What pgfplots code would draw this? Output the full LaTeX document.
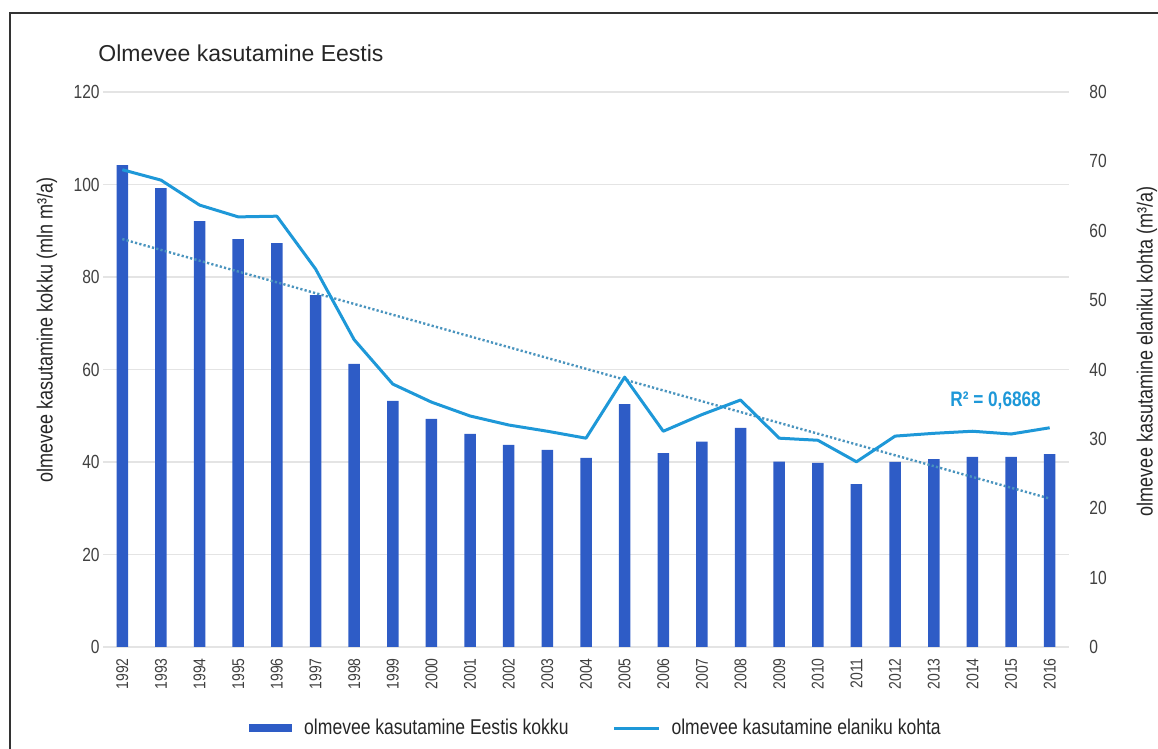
\documentclass[border=0pt]{standalone}
\usepackage{fontspec}
\setmainfont{Liberation Sans}[FakeStretch=0.82]
\newfontfamily\titlefont{Liberation Sans}
\usepackage{pgfplots}
\pgfplotsset{compat=1.18}
\definecolor{barblue}{HTML}{2E5CC6}
\definecolor{lineblue}{HTML}{1E98D8}
\definecolor{trendc}{HTML}{4A94BE}
\definecolor{gridc}{HTML}{E4E4E4}
\definecolor{txt}{HTML}{404040}
\begin{document}
\begin{tikzpicture}
\path[use as bounding box] (0pt,0pt) rectangle (579pt,374.5pt);
\draw[line width=1.2pt, color=black!80] (5pt,-10pt) -- (5pt,368pt) -- (600pt,368pt);
\node[anchor=base west, font=\titlefont\fontsize{11.5}{13}\selectfont, text=black!85, inner sep=0pt] at (49pt,343.5pt) {Olmevee kasutamine Eestis};
\begin{axis}[
  at={(51.5pt,51pt)}, anchor=south west, scale only axis,
  width=483pt, height=277.5pt,
  xmin=-0.5, xmax=24.5, ymin=0, ymax=120, enlargelimits=false,
  axis line style={draw=none}, major tick length=0pt,
  ytick={0,20,...,120}, ymajorgrids, grid style={gridc, line width=0.6pt},
  xtick={0,...,24},
  xticklabels={1992,1993,1994,1995,1996,1997,1998,1999,2000,2001,2002,2003,2004,2005,2006,2007,2008,2009,2010,2011,2012,2013,2014,2015,2016},
  xticklabel style={rotate=90, anchor=east, inner xsep=5.5pt, inner ysep=0pt, font=\fontsize{8.5}{9}\selectfont, text=txt},
  yticklabel style={anchor=east, inner sep=0pt, xshift=-1.5pt, font=\fontsize{9.5}{10}\selectfont, text=txt},
  /pgf/number format/assume math mode=true,
  ylabel={olmevee kasutamine kokku (mln m³/a)},
  every axis y label/.style={at={(rel axis cs:-0.058,0.571)}, rotate=90, anchor=center, font=\fontsize{11}{12}\selectfont, text=black!85},
]
\addplot[ybar, bar width=5.75pt, fill=barblue, draw=none] coordinates {
(0,104.2) (1,99.2) (2,92.1) (3,88.2) (4,87.3) (5,76.1) (6,61.2) (7,53.2) (8,49.3) (9,46.1)
(10,43.7) (11,42.6) (12,40.9) (13,52.5) (14,41.9) (15,44.4) (16,47.4) (17,40.1) (18,39.8)
(19,35.2) (20,40.0) (21,40.6) (22,41.1) (23,41.1) (24,41.7)};
\end{axis}
\begin{axis}[
  at={(51.5pt,51pt)}, anchor=south west, scale only axis,
  width=483pt, height=277.5pt,
  xmin=-0.5, xmax=24.5, ymin=0, ymax=80, enlargelimits=false,
  axis line style={draw=none}, major tick length=0pt,
  xtick=\empty, ytick={0,10,...,80}, yticklabel pos=right,
  yticklabel style={anchor=west, inner sep=0pt, xshift=10pt, font=\fontsize{9.5}{10}\selectfont, text=txt},
  /pgf/number format/assume math mode=true,
  ylabel={olmevee kasutamine elaniku kohta (m³/a)},
  every axis y label/.style={at={(rel axis cs:1.0807,0.533)}, rotate=90, anchor=center, font=\fontsize{11}{12}\selectfont, text=black!85},
  legend style={at={(rel axis cs:0.5115,-0.146)}, anchor=center, draw=none, fill=none,
    font=\fontsize{10.7}{12}\selectfont, text=black!85, inner sep=0pt,
    /tikz/every even column/.append style={column sep=20pt}},
  legend columns=2,
]
\addlegendimage{legend image code/.code={\fill[barblue] (0pt,-1.75pt) rectangle (21pt,1.75pt);}}
\addlegendentry{\hspace{4pt}olmevee kasutamine Eestis kokku}
\addplot[trendc, line width=1.2pt, dash pattern=on 1.1pt off 1.1pt, forget plot] coordinates {(0,58.8) (24,21.4)};
\addplot[lineblue, line width=1.5pt, line join=round,
  legend image code/.code={\draw[lineblue, line width=1.5pt] (0pt,0pt) -- (22.5pt,0pt);}] coordinates {
(0,68.8) (1,67.3) (2,63.7) (3,62.0) (4,62.1) (5,54.5) (6,44.3) (7,37.9) (8,35.3) (9,33.3)
(10,32.0) (11,31.1) (12,30.1) (13,38.9) (14,31.1) (15,33.5) (16,35.6) (17,30.1) (18,29.8)
(19,26.7) (20,30.4) (21,30.8) (22,31.1) (23,30.7) (24,31.6)};
\addlegendentry{\hspace{3.5pt}olmevee kasutamine elaniku kohta}
\node[text=lineblue, font=\bfseries\fontsize{10.5}{12}\selectfont, inner sep=0pt] at (axis cs:22.6,35.5) {R² = 0,6868};
\end{axis}
\end{tikzpicture}
\end{document}
